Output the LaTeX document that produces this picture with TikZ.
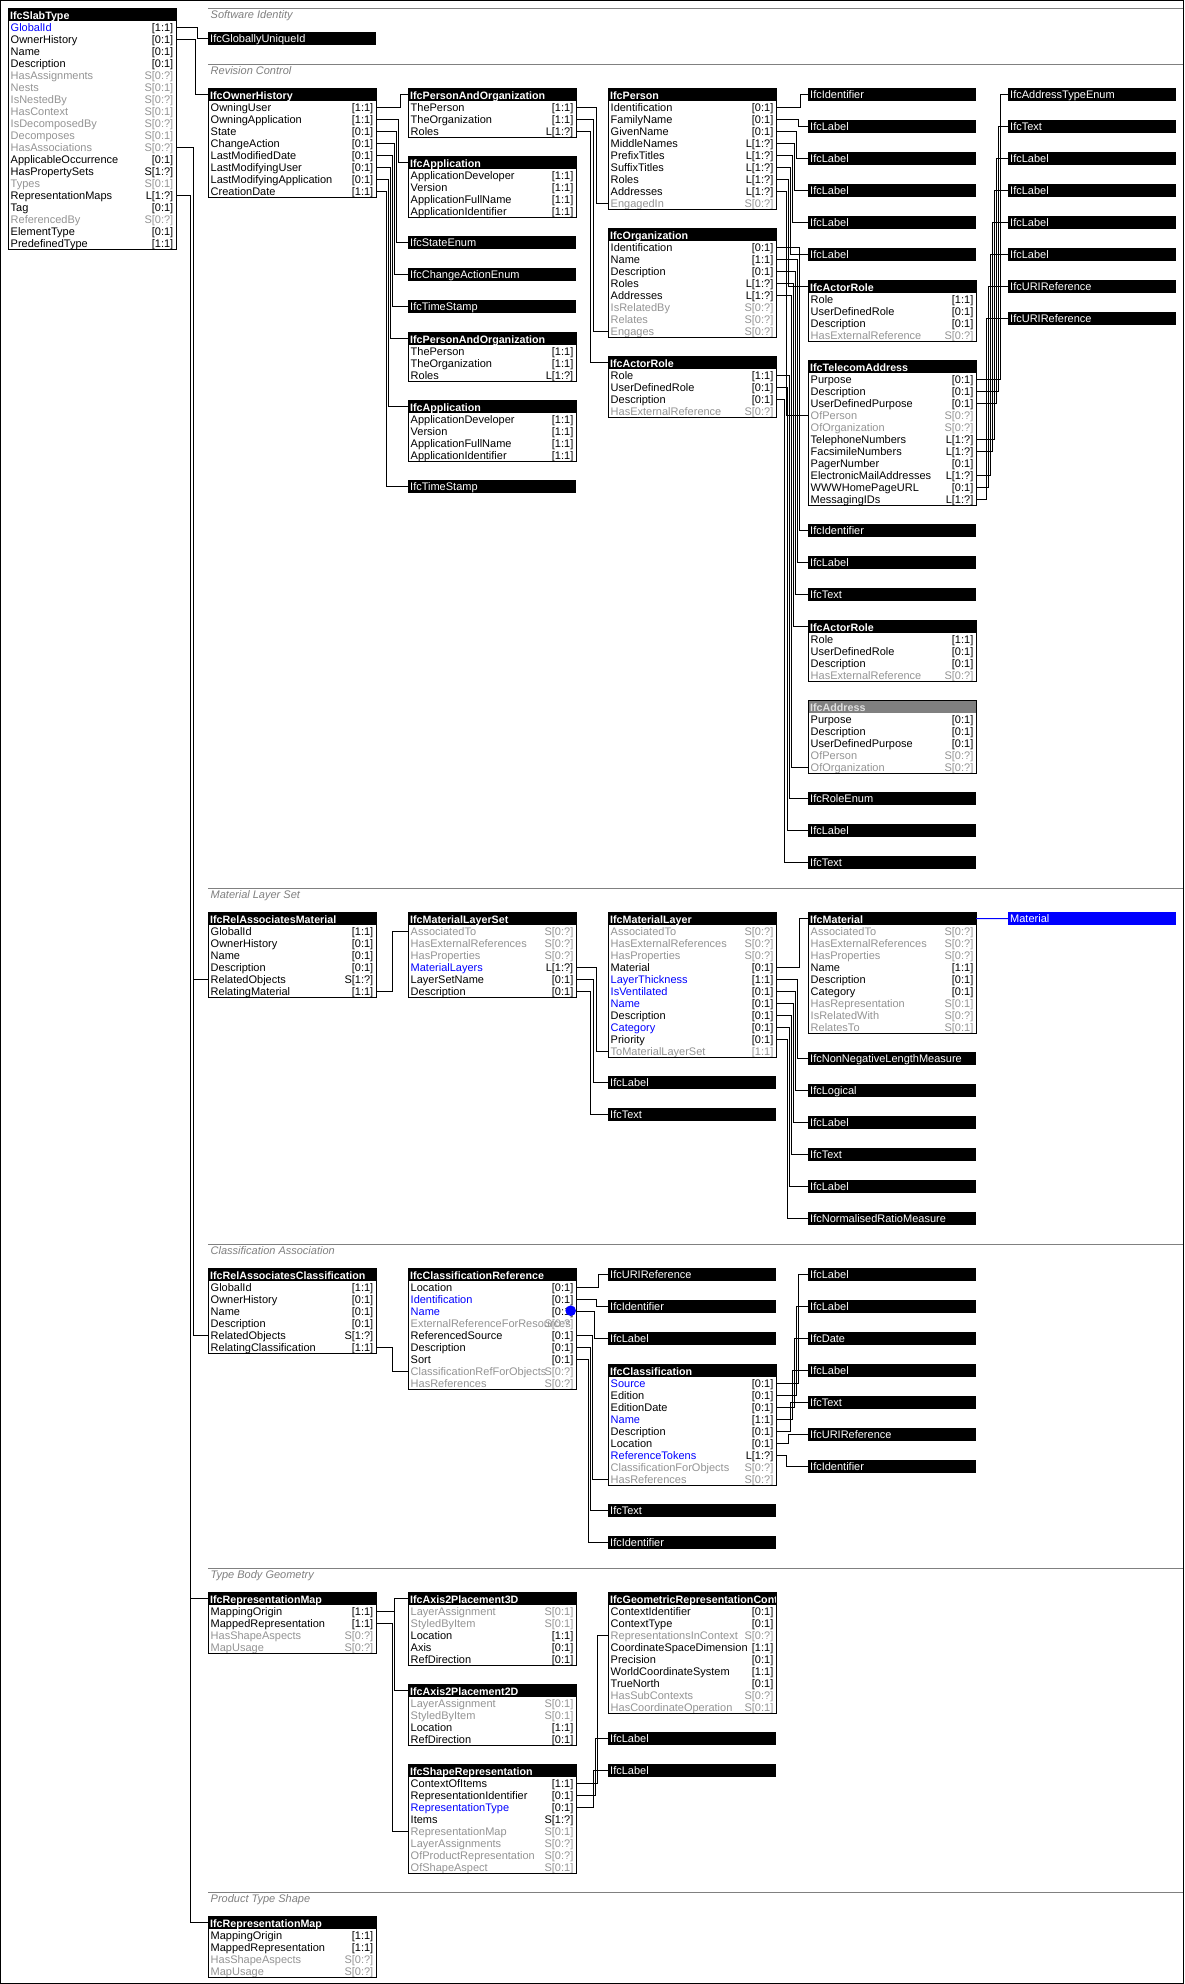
\documentclass[tikz,border=0pt]{standalone}
\usepackage{fontspec}
\setmainfont{Liberation Sans}

\colorlet{dim}{black!42}
\colorlet{rulegray}{black!50}
\colorlet{cardblack}{black}
\colorlet{cardblue}{black}
\colorlet{carddim}{dim}
\newcommand{\rowfont}{\fontsize{11}{12}\selectfont}
\newcommand{\hdrfont}{\fontsize{10.7}{12}\selectfont\bfseries}
\newcommand{\secfont}{\fontsize{11}{12}\selectfont\itshape}

% entity box: [header fill]{id}{x}{y}{rows}{title}{attr/card/colour,...}
\newcommand{\entity}[7][black]{%
  \node[box, minimum height={13+12*#5}] (#2) at ({#3},{#4}) {};
  \fill[#1] ({#3},{#4}) rectangle ++(168,13);
  \begin{scope}
    \clip ({#3},{#4}) rectangle ++(168,13);
    \node[hdr] (#2-t) at ({#3+2},{#4+11}) {#6};
  \end{scope}
  \coordinate (#2-h) at ({#3},{#4+6.5});
  \coordinate (#2-hr) at ({#3+168},{#4+6.5});
  \foreach \nm/\cd/\cl [count=\i from 0] in {#7} {
    \node[attr, text=\cl] (#2-a\i) at ({#3+2.5},{#4+23+12*\i}) {\nm};
    \node[card, text=card\cl] (#2-c\i) at ({#3+165.5},{#4+23+12*\i}) {\cd};
    \coordinate (#2-l\i) at ({#3},{#4+19+12*\i});
    \coordinate (#2-r\i) at ({#3+168},{#4+19+12*\i});
  }
  \draw[line width=1pt] (#2.north west) rectangle (#2.south east);
}
% type bar: [fill]{id}{x}{y}{label}
\newcommand{\typebar}[5][black]{\node[refbar, fill=#1] (#2) at ({#3},{#4}) {#5};}
% connector: {from}{to}{x of the vertical}
\newcommand{\wire}[3]{%
  \coordinate (bend) at (#3,0);
  \draw[link] (#1) -- (#1 -| bend) -- (bend |- #2) -- (#2);
}
% section band: {id}{y}{text}
\newcommand{\band}[3]{%
  \draw[rulegray, line width=1pt] (208,#2) -- (1184,#2);
  \node[section] (#1) at (210.5,{#2+10}) {#3};
}

\begin{document}
\begin{tikzpicture}[x=1pt, y=-1pt,
    box/.style={anchor=north west, minimum width=168pt, inner sep=0pt, outer sep=0pt},
    hdr/.style={anchor=base west, inner sep=0pt, text=white, font=\hdrfont},
    attr/.style={anchor=base west, inner sep=0pt, font=\rowfont},
    card/.style={anchor=base east, inner sep=0pt, font=\rowfont},
    refbar/.style={anchor=north west, text=white, font=\rowfont, inner xsep=2pt, inner ysep=0pt,
      minimum height=13pt, text width=164pt, align=left, text height=9.5pt, text depth=2pt},
    link/.style={line width=1pt},
    section/.style={anchor=base west, inner sep=0pt, text=rulegray, font=\secfont}]
  \useasboundingbox (0,0) rectangle (1184,1984);
  \fill[white] (0,0) rectangle (1184,1984);

  % Software Identity / Revision Control
  \band{s1}{8}{Software Identity}
  \band{s2}{64}{Revision Control}
  \entity{slab}{8}{8}{19}{IfcSlabType}{GlobalId/[1:1]/blue, OwnerHistory/[0:1]/black, Name/[0:1]/black,
    Description/[0:1]/black, HasAssignments/S[0:?]/dim, Nests/S[0:1]/dim, IsNestedBy/S[0:?]/dim,
    HasContext/S[0:1]/dim, IsDecomposedBy/S[0:?]/dim, Decomposes/S[0:1]/dim, HasAssociations/S[0:?]/dim,
    ApplicableOccurrence/[0:1]/black, HasPropertySets/S[1:?]/black, Types/S[0:1]/dim,
    RepresentationMaps/L[1:?]/black, Tag/[0:1]/black, ReferencedBy/S[0:?]/dim, ElementType/[0:1]/black,
    PredefinedType/[1:1]/black}
  \typebar{guid}{208}{32}{IfcGloballyUniqueId}
  \entity{oh}{208}{88}{8}{IfcOwnerHistory}{OwningUser/[1:1]/black, OwningApplication/[1:1]/black,
    State/[0:1]/black, ChangeAction/[0:1]/black, LastModifiedDate/[0:1]/black, LastModifyingUser/[0:1]/black,
    LastModifyingApplication/[0:1]/black, CreationDate/[1:1]/black}
  \entity{pao1}{408}{88}{3}{IfcPersonAndOrganization}{ThePerson/[1:1]/black, TheOrganization/[1:1]/black, Roles/L[1:?]/black}
  \entity{app1}{408}{156}{4}{IfcApplication}{ApplicationDeveloper/[1:1]/black, Version/[1:1]/black,
    ApplicationFullName/[1:1]/black, ApplicationIdentifier/[1:1]/black}
  \typebar{state}{408}{236}{IfcStateEnum}
  \typebar{change}{408}{268}{IfcChangeActionEnum}
  \typebar{ts1}{408}{300}{IfcTimeStamp}
  \entity{pao2}{408}{332}{3}{IfcPersonAndOrganization}{ThePerson/[1:1]/black, TheOrganization/[1:1]/black, Roles/L[1:?]/black}
  \entity{app2}{408}{400}{4}{IfcApplication}{ApplicationDeveloper/[1:1]/black, Version/[1:1]/black,
    ApplicationFullName/[1:1]/black, ApplicationIdentifier/[1:1]/black}
  \typebar{ts2}{408}{480}{IfcTimeStamp}
  \entity{per}{608}{88}{9}{IfcPerson}{Identification/[0:1]/black, FamilyName/[0:1]/black, GivenName/[0:1]/black,
    MiddleNames/L[1:?]/black, PrefixTitles/L[1:?]/black, SuffixTitles/L[1:?]/black, Roles/L[1:?]/black,
    Addresses/L[1:?]/black, EngagedIn/S[0:?]/dim}
  \entity{org}{608}{228}{8}{IfcOrganization}{Identification/[0:1]/black, Name/[1:1]/black, Description/[0:1]/black,
    Roles/L[1:?]/black, Addresses/L[1:?]/black, IsRelatedBy/S[0:?]/dim, Relates/S[0:?]/dim, Engages/S[0:?]/dim}
  \entity{ar1}{608}{356}{4}{IfcActorRole}{Role/[1:1]/black, UserDefinedRole/[0:1]/black,
    Description/[0:1]/black, HasExternalReference/S[0:?]/dim}
  \typebar{id1}{808}{88}{IfcIdentifier}
  \foreach \j [count=\y from 0] in {1,...,5} {
    \typebar{lab\j}{808}{120+32*\y}{IfcLabel}
  }
  \entity{ar2}{808}{280}{4}{IfcActorRole}{Role/[1:1]/black, UserDefinedRole/[0:1]/black,
    Description/[0:1]/black, HasExternalReference/S[0:?]/dim}
  \entity{tel}{808}{360}{11}{IfcTelecomAddress}{Purpose/[0:1]/black, Description/[0:1]/black,
    UserDefinedPurpose/[0:1]/black, OfPerson/S[0:?]/dim, OfOrganization/S[0:?]/dim,
    TelephoneNumbers/L[1:?]/black, FacsimileNumbers/L[1:?]/black, PagerNumber/[0:1]/black,
    ElectronicMailAddresses/L[1:?]/black, WWWHomePageURL/[0:1]/black, MessagingIDs/L[1:?]/black}
  \typebar{id2}{808}{524}{IfcIdentifier}
  \typebar{lab6}{808}{556}{IfcLabel}
  \typebar{txt1}{808}{588}{IfcText}
  \entity{ar3}{808}{620}{4}{IfcActorRole}{Role/[1:1]/black, UserDefinedRole/[0:1]/black,
    Description/[0:1]/black, HasExternalReference/S[0:?]/dim}
  \entity[black!50]{addr}{808}{700}{5}{\textcolor{black!12}{IfcAddress}}{Purpose/[0:1]/black, Description/[0:1]/black,
    UserDefinedPurpose/[0:1]/black, OfPerson/S[0:?]/dim, OfOrganization/S[0:?]/dim}
  \typebar{role}{808}{792}{IfcRoleEnum}
  \typebar{lab7}{808}{824}{IfcLabel}
  \typebar{txt2}{808}{856}{IfcText}
  \typebar{ate}{1008}{88}{IfcAddressTypeEnum}
  \typebar{txt3}{1008}{120}{IfcText}
  \foreach \j [count=\y from 0] in {8,...,11} {
    \typebar{lab\j}{1008}{152+32*\y}{IfcLabel}
  }
  \typebar{uri1}{1008}{280}{IfcURIReference}
  \typebar{uri2}{1008}{312}{IfcURIReference}

  \wire{slab-r0}{guid.west}{197}
  \wire{slab-r1}{oh-h}{195}
  \wire{oh-r0}{pao1-h}{400}
  \wire{oh-r1}{app1-h}{398}
  \wire{oh-r2}{state.west}{396}
  \wire{oh-r3}{change.west}{394}
  \wire{oh-r4}{ts1.west}{392}
  \wire{oh-r5}{pao2-h}{390}
  \wire{oh-r6}{app2-h}{388}
  \wire{oh-r7}{ts2.west}{386}
  \wire{pao1-r0}{per-l8}{596}
  \wire{pao1-r1}{org-l7}{593}
  \wire{pao1-r2}{ar1-h}{590}
  \wire{per-r0}{id1.west}{800}
  \foreach \j [count=\k from 1] in {798,796,794,792,790} {
    \wire{per-r\k}{lab\k.west}{\j}
  }
  \wire{per-r6}{ar2-h}{788}
  \wire{per-r7}{tel-l3}{786}
  \wire{org-r0}{id2.west}{799}
  \wire{org-r1}{lab6.west}{797}
  \wire{org-r2}{txt1.west}{795}
  \wire{org-r3}{ar3-h}{793}
  \wire{org-r4}{addr-l4}{791}
  \wire{ar1-r0}{role.west}{789}
  \wire{ar1-r1}{lab7.west}{787.3}
  \wire{ar1-r2}{txt2.west}{784.8}
  \wire{tel-r0}{ate.west}{1000}
  \wire{tel-r1}{txt3.west}{998}
  \wire{tel-r2}{lab8.west}{996}
  \wire{tel-r5}{lab9.west}{994}
  \wire{tel-r6}{lab10.west}{992}
  \wire{tel-r8}{lab11.west}{990}
  \wire{tel-r9}{uri1.west}{988}
  \wire{tel-r10}{uri2.west}{986}

  % Material Layer Set
  \band{s3}{888}{Material Layer Set}
  \entity{ram}{208}{912}{6}{IfcRelAssociatesMaterial}{GlobalId/[1:1]/black, OwnerHistory/[0:1]/black,
    Name/[0:1]/black, Description/[0:1]/black, RelatedObjects/S[1:?]/black, RelatingMaterial/[1:1]/black}
  \entity{mls}{408}{912}{6}{IfcMaterialLayerSet}{AssociatedTo/S[0:?]/dim, HasExternalReferences/S[0:?]/dim,
    HasProperties/S[0:?]/dim, MaterialLayers/L[1:?]/blue, LayerSetName/[0:1]/black, Description/[0:1]/black}
  \entity{ml}{608}{912}{11}{IfcMaterialLayer}{AssociatedTo/S[0:?]/dim, HasExternalReferences/S[0:?]/dim,
    HasProperties/S[0:?]/dim, Material/[0:1]/black, LayerThickness/[1:1]/blue, IsVentilated/[0:1]/blue,
    Name/[0:1]/blue, Description/[0:1]/black, Category/[0:1]/blue, Priority/[0:1]/black,
    ToMaterialLayerSet/[1:1]/dim}
  \entity{mat}{808}{912}{9}{IfcMaterial}{AssociatedTo/S[0:?]/dim, HasExternalReferences/S[0:?]/dim,
    HasProperties/S[0:?]/dim, Name/[1:1]/black, Description/[0:1]/black, Category/[0:1]/black,
    HasRepresentation/S[0:1]/dim, IsRelatedWith/S[0:?]/dim, RelatesTo/S[0:1]/dim}
  \typebar[blue]{matbar}{1008}{912}{Material}
  \typebar{lab12}{608}{1076}{IfcLabel}
  \typebar{txt4}{608}{1108}{IfcText}
  \typebar{nnlm}{808}{1052}{IfcNonNegativeLengthMeasure}
  \typebar{logi}{808}{1084}{IfcLogical}
  \typebar{lab13}{808}{1116}{IfcLabel}
  \typebar{txt5}{808}{1148}{IfcText}
  \typebar{lab14}{808}{1180}{IfcLabel}
  \typebar{nrm}{808}{1212}{IfcNormalisedRatioMeasure}

  \wire{slab-r10}{ram-l4}{193}
  \wire{ram-r5}{mls-l0}{392}
  \wire{mls-r3}{ml-l10}{596}
  \wire{mls-r4}{lab12.west}{593}
  \wire{mls-r5}{txt4.west}{590}
  \wire{ml-r3}{mat-h}{799}
  \wire{ml-r4}{nnlm.west}{797}
  \wire{ml-r5}{logi.west}{795}
  \wire{ml-r6}{lab13.west}{793}
  \wire{ml-r7}{txt5.west}{791}
  \wire{ml-r8}{lab14.west}{789}
  \wire{ml-r9}{nrm.west}{787}
  \draw[link, blue] (mat-hr) -- (matbar.west);

  % Classification Association
  \band{s4}{1244}{Classification Association}
  \entity{rac}{208}{1268}{6}{IfcRelAssociatesClassification}{GlobalId/[1:1]/black, OwnerHistory/[0:1]/black,
    Name/[0:1]/black, Description/[0:1]/black, RelatedObjects/S[1:?]/black, RelatingClassification/[1:1]/black}
  \entity{cref}{408}{1268}{9}{IfcClassificationReference}{Location/[0:1]/black, Identification/[0:1]/blue,
    Name/[0:1]/blue, ExternalReferenceForResources/S[0:?]/dim, ReferencedSource/[0:1]/black,
    Description/[0:1]/black, Sort/[0:1]/black, ClassificationRefForObjects/S[0:?]/dim, HasReferences/S[0:?]/dim}
  \fill[blue] (570.7,1310.7) circle (5.3pt);
  \typebar{uri3}{608}{1268}{IfcURIReference}
  \typebar{id3}{608}{1300}{IfcIdentifier}
  \typebar{lab15}{608}{1332}{IfcLabel}
  \entity{cls}{608}{1364}{9}{IfcClassification}{Source/[0:1]/blue, Edition/[0:1]/black, EditionDate/[0:1]/black,
    Name/[1:1]/blue, Description/[0:1]/black, Location/[0:1]/black, ReferenceTokens/L[1:?]/blue,
    ClassificationForObjects/S[0:?]/dim, HasReferences/S[0:?]/dim}
  \typebar{txt6}{608}{1504}{IfcText}
  \typebar{id4}{608}{1536}{IfcIdentifier}
  \typebar{lab16}{808}{1268}{IfcLabel}
  \typebar{lab17}{808}{1300}{IfcLabel}
  \typebar{date}{808}{1332}{IfcDate}
  \typebar{lab18}{808}{1364}{IfcLabel}
  \typebar{txt7}{808}{1396}{IfcText}
  \typebar{uri4}{808}{1428}{IfcURIReference}
  \typebar{id5}{808}{1460}{IfcIdentifier}

  \wire{slab-r10}{rac-l4}{193}
  \wire{rac-r5}{cref-l7}{392}
  \wire{cref-r0}{uri3.west}{598}
  \wire{cref-r1}{id3.west}{596}
  \wire{cref-r2}{lab15.west}{594}
  \wire{cref-r4}{cls-l8}{592}
  \wire{cref-r5}{txt6.west}{590}
  \wire{cref-r6}{id4.west}{588}
  \wire{cls-r0}{lab16.west}{798}
  \wire{cls-r1}{lab17.west}{796}
  \wire{cls-r2}{date.west}{794}
  \wire{cls-r3}{lab18.west}{792}
  \wire{cls-r4}{txt7.west}{790}
  \wire{cls-r5}{uri4.west}{788}
  \wire{cls-r6}{id5.west}{786}

  % Type Body Geometry
  \band{s5}{1568}{Type Body Geometry}
  \entity{rm1}{208}{1592}{4}{IfcRepresentationMap}{MappingOrigin/[1:1]/black, MappedRepresentation/[1:1]/black,
    HasShapeAspects/S[0:?]/dim, MapUsage/S[0:?]/dim}
  \entity{ap3}{408}{1592}{5}{IfcAxis2Placement3D}{LayerAssignment/S[0:1]/dim, StyledByItem/S[0:1]/dim,
    Location/[1:1]/black, Axis/[0:1]/black, RefDirection/[0:1]/black}
  \entity{ap2}{408}{1684}{4}{IfcAxis2Placement2D}{LayerAssignment/S[0:1]/dim, StyledByItem/S[0:1]/dim,
    Location/[1:1]/black, RefDirection/[0:1]/black}
  \entity{shp}{408}{1764}{8}{IfcShapeRepresentation}{ContextOfItems/[1:1]/black,
    RepresentationIdentifier/[0:1]/black, RepresentationType/[0:1]/blue, Items/S[1:?]/black,
    RepresentationMap/S[0:1]/dim, LayerAssignments/S[0:?]/dim, OfProductRepresentation/S[0:?]/dim,
    OfShapeAspect/S[0:1]/dim}
  \entity{grc}{608}{1592}{9}{IfcGeometricRepresentationContext}{ContextIdentifier/[0:1]/black,
    ContextType/[0:1]/black, RepresentationsInContext/S[0:?]/dim, CoordinateSpaceDimension/[1:1]/black,
    Precision/[0:1]/black, WorldCoordinateSystem/[1:1]/black, TrueNorth/[0:1]/black,
    HasSubContexts/S[0:?]/dim, HasCoordinateOperation/S[0:1]/dim}
  \typebar{lab19}{608}{1732}{IfcLabel}
  \typebar{lab20}{608}{1764}{IfcLabel}

  \wire{slab-r14}{rm1-h}{190}
  \wire{rm1-r0}{ap3-h}{394}
  \wire{rm1-r0}{ap2-h}{394}
  \wire{rm1-r1}{shp-l4}{392}
  \wire{shp-r0}{grc-l2}{597}
  \wire{shp-r1}{lab19.west}{595}
  \wire{shp-r2}{lab20.west}{593}

  % Product Type Shape
  \band{s6}{1892}{Product Type Shape}
  \entity{rm2}{208}{1916}{4}{IfcRepresentationMap}{MappingOrigin/[1:1]/black, MappedRepresentation/[1:1]/black,
    HasShapeAspects/S[0:?]/dim, MapUsage/S[0:?]/dim}
  \wire{slab-r14}{rm2-h}{190}

  \draw[line width=1pt] (0.5,0.5) rectangle (1183.5,1983.5);
\end{tikzpicture}
\end{document}
